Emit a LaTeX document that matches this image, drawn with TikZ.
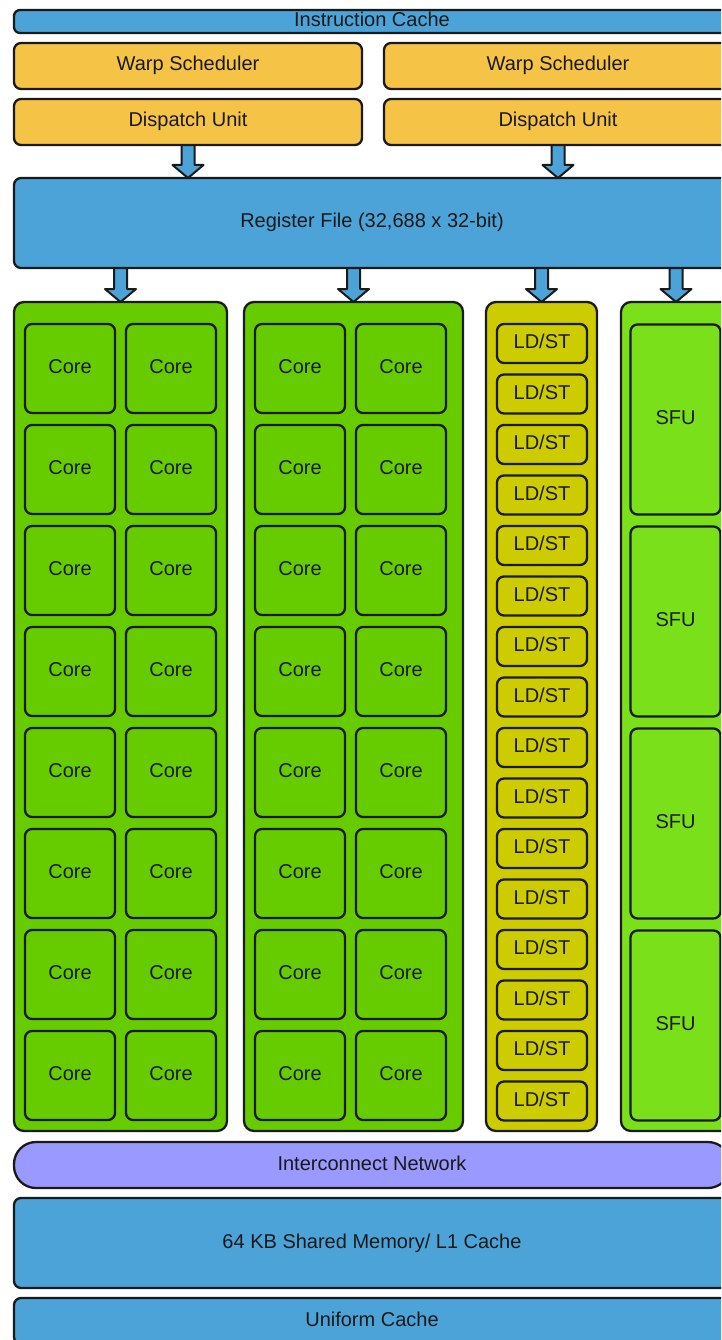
\documentclass[tikz,border=0pt]{standalone}
\usepackage{fontspec}
\setmainfont{Liberation Sans}
\usetikzlibrary{calc}
\definecolor{cblue}{HTML}{4BA3D8}
\definecolor{corange}{HTML}{F5C345}
\definecolor{cgreen}{HTML}{66CC00}
\definecolor{colive}{HTML}{CCCC00}
\definecolor{clime}{HTML}{7AE01A}
\definecolor{clav}{HTML}{9999FF}
\definecolor{cline}{HTML}{1A1A1A}
\tikzset{
  box/.style={draw=cline, line width=2.3pt, rounded corners=7pt, inner sep=0pt,
    font=\fontsize{20}{22}\selectfont, text=black!90, text height=14.5pt, text depth=4.5pt},
  bluebox/.style={box, fill=cblue},
  orangebox/.style={box, fill=corange},
  panel/.style={draw=cline, line width=2.3pt, rounded corners=10pt, inner sep=0pt},
  corebox/.style={box, fill=cgreen, minimum width=90pt, minimum height=89pt},
  ldstbox/.style={box, fill=colive, minimum width=90pt, minimum height=39pt},
  sfubox/.style={box, fill=clime, minimum width=90pt, minimum height=190pt},
  barrow/.style={draw=cline, fill=cblue, line width=2pt, line join=round},
}
\newcommand\blockarr[2]{%
  \draw[barrow] ($(#1)+(-6.5,-4)$) -- ($(#2)+(-6.5,-13)$) -- ($(#2)+(-15.5,-13)$)
    -- (#2) -- ($(#2)+(15.5,-13)$) -- ($(#2)+(6.5,-13)$) -- ($(#1)+(6.5,-4)$) -- cycle;}
\begin{document}
\begin{tikzpicture}[x=1pt, y=-1pt]
\useasboundingbox (0,0) rectangle (721,1340);
\clip (0,0) rectangle (721,1340);

\coordinate (a1s) at (188,145);
\coordinate (a1t) at (188,178);
\coordinate (a2s) at (558,145);
\coordinate (a2t) at (558,178);
\coordinate (b1s) at (120.5,268);
\coordinate (b1t) at (120.5,302);
\coordinate (b2s) at (353.5,268);
\coordinate (b2t) at (353.5,302);
\coordinate (b3s) at (541.5,268);
\coordinate (b3t) at (541.5,302);
\coordinate (b4s) at (676,268);
\coordinate (b4t) at (676,302);

\blockarr{a1s}{a1t}
\blockarr{a2s}{a2t}
\blockarr{b1s}{b1t}
\blockarr{b2s}{b2t}
\blockarr{b3s}{b3t}
\blockarr{b4s}{b4t}

\node[bluebox, minimum width=716pt, minimum height=23pt, rounded corners=6pt] (ic) at (372,21.5) {Instruction Cache};
\node[orangebox, minimum width=348pt, minimum height=46pt] (ws1) at (188,66) {Warp Scheduler};
\node[orangebox, minimum width=348pt, minimum height=46pt] (ws2) at (558,66) {Warp Scheduler};
\node[orangebox, minimum width=348pt, minimum height=46pt] (du1) at (188,122) {Dispatch Unit};
\node[orangebox, minimum width=348pt, minimum height=46pt] (du2) at (558,122) {Dispatch Unit};
\node[bluebox, minimum width=716pt, minimum height=90pt] (rf) at (372,223) {Register File (32,688 x 32-bit)};

\node[panel, fill=cgreen, minimum width=213pt, minimum height=829pt] (p1) at (120.5,716.5) {};
\node[panel, fill=cgreen, minimum width=219pt, minimum height=829pt] (p2) at (353.5,716.5) {};
\node[panel, fill=colive, minimum width=111pt, minimum height=829pt] (p3) at (541.5,716.5) {};
\node[panel, fill=clime, minimum width=110pt, minimum height=829pt] (p4) at (676,716.5) {};

\foreach \i in {0,...,7}{
  \node[corebox] (c1a\i) at (70,368.5+101*\i) {Core};
  \node[corebox] (c1b\i) at (171,368.5+101*\i) {Core};
  \node[corebox] (c2a\i) at (300,368.5+101*\i) {Core};
  \node[corebox] (c2b\i) at (401,368.5+101*\i) {Core};
}
\foreach \i in {0,...,15}{
  \node[ldstbox] (ld\i) at (542,343.5+50.5*\i) {LD/ST};
}
\foreach \i in {0,...,3}{
  \node[sfubox] (sfu\i) at (675.5,419.5+202*\i) {SFU};
}

\node[box, fill=clav, minimum width=716pt, minimum height=46pt, rounded corners=22pt] (net) at (372,1165) {Interconnect Network};
\node[bluebox, minimum width=716pt, minimum height=90pt] (smem) at (372,1243) {64 KB Shared Memory/ L1 Cache};
\node[bluebox, minimum width=716pt, minimum height=46pt] (uc) at (372,1321) {Uniform Cache};
\end{tikzpicture}
\end{document}
